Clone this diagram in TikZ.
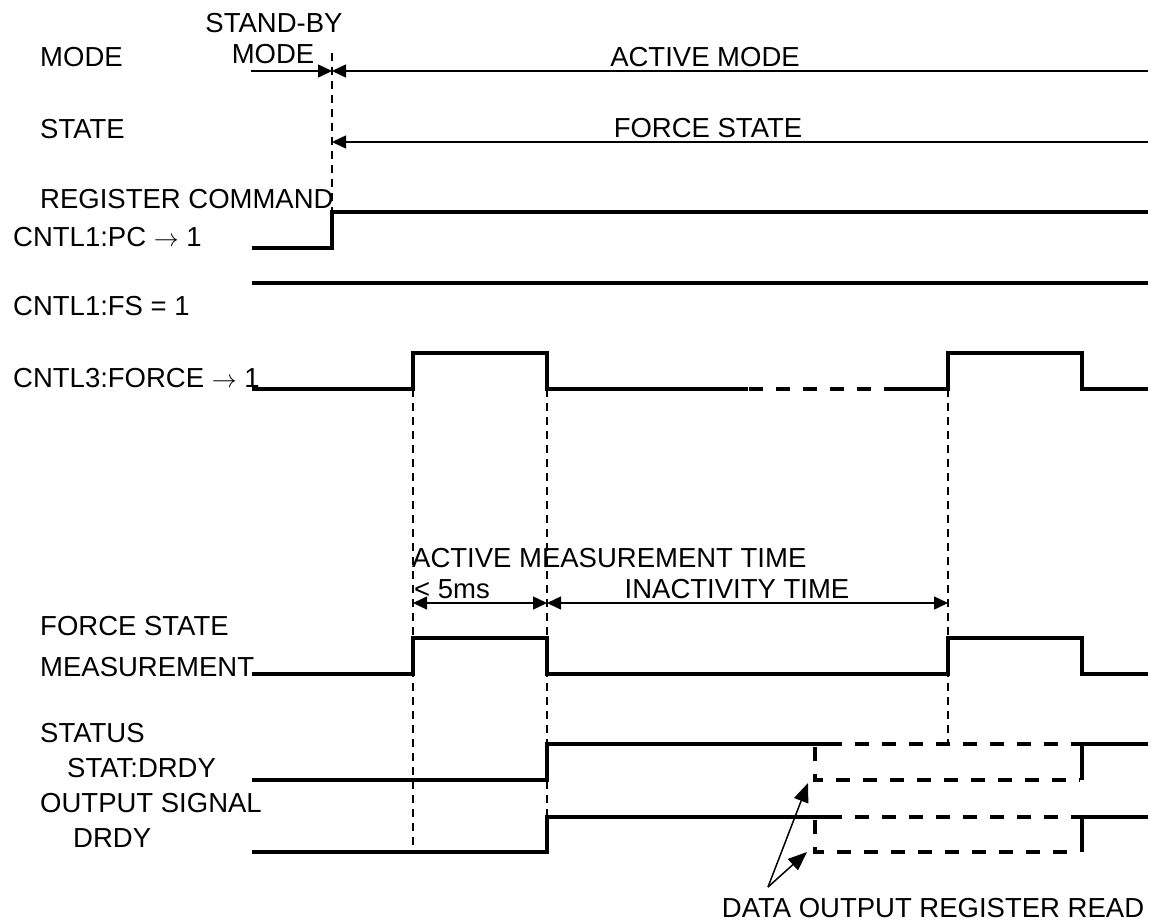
\documentclass[tikz,border=0pt]{standalone}
\usepackage{fontspec}
\setmainfont{Liberation Sans}
\usepackage{tikz}
\usetikzlibrary{
    arrows.meta,
    positioning,
    calc
}

\begin{document}
\begin{tikzpicture}[x=1pt, y=-1pt,
    font=\fontsize{27.5}{33}\selectfont,
    every node/.style={inner sep=0pt, anchor=base west},
    sig/.style={line width=3.5pt},
    sigdash/.style={line width=3.5pt, dash pattern=on 14pt off 13pt},
    guide/.style={line width=1.5pt, dash pattern=on 8pt off 6pt},
    dim/.style={line width=1.5pt, {Triangle[length=14pt,width=13pt]}-{Triangle[length=14pt,width=13pt]}},
    toarrow/.style={line width=1.5pt, -{Triangle[length=14pt,width=13pt]}},
    callout/.style={line width=1.5pt, -{Triangle[length=19pt,width=15pt]}}]
    \useasboundingbox (0, 0) rectangle (1163, 924);
    % row labels
    \node (lblmode) at (40, 66) {MODE};
    \node (lblstate) at (40, 138) {STATE};
    \node (lblreg) at (40, 208) {REGISTER COMMAND};
    \node (lblpc) at (13, 246) {CNTL1:PC $\rightarrow$ 1};
    \node (lblfs) at (13, 315) {CNTL1:FS = 1};
    \node (lblforce) at (13, 387) {CNTL3:FORCE $\rightarrow$ 1};
    \node (lblfsm) at (40, 635) {FORCE STATE};
    \node (lblmeas) at (40, 676) {MEASUREMENT};
    \node (lblstatus) at (40, 742) {STATUS};
    \node (lblstat) at (67, 777) {STAT:DRDY};
    \node (lblout) at (40, 812) {OUTPUT SIGNAL};
    \node (lbldrdy) at (73, 847) {DRDY};
    % annotations
    \node[anchor=base] (standby) at (274, 32) {STAND-BY};
    \node[anchor=base] (standbymode) at (273, 63) {MODE};
    \node[anchor=base] (activemode) at (705, 66) {ACTIVE MODE};
    \node[anchor=base] (forcestate) at (708, 137) {FORCE STATE};
    \node (amt) at (412, 567) {ACTIVE MEASUREMENT TIME};
    \node (lt5) at (414, 598) {< 5ms};
    \node[anchor=base] (inact) at (737, 598) {INACTIVITY TIME};
    \node[anchor=base] (dorr) at (933, 917) {DATA OUTPUT REGISTER READ};
    % timing marks
    \coordinate (sbstart) at (251, 71);
    \coordinate (tact) at (332, 71);
    \coordinate (modeend) at (1148, 71);
    \coordinate (tstate) at (332, 142);
    \coordinate (stateend) at (1148, 142);
    \coordinate (m0) at (413, 603);
    \coordinate (m1) at (547, 603);
    \coordinate (m2) at (948, 603);
    \coordinate (readpt) at (768, 887);
    \coordinate (readstat) at (808, 783);
    \coordinate (readdrdy) at (807, 852);
    % guide lines
    \draw[guide] (332, 53) -- (332, 212);
    \draw[guide] (413, 389) -- (413, 852);
    \draw[guide] (547, 389) -- (547, 852);
    \draw[guide] (948, 389) -- (948, 744);
    % mode / state
    \draw[toarrow] (sbstart) -- (tact);
    \draw[toarrow] (modeend) -- (tact);
    \draw[toarrow] (stateend) -- (tstate);
    % register signals
    \draw[sig] (252, 248) -- (332, 248) -- (332, 212) -- (1148, 212);
    \draw[sig] (252, 283) -- (1148, 283);
    \draw[sig] (252, 389) -- (413, 389) -- (413, 353) -- (547, 353) -- (547, 389) -- (748, 389);
    \draw[sigdash] (749, 389) -- (887, 389);
    \draw[sig] (887, 389) -- (948, 389) -- (948, 353) -- (1082, 353) -- (1082, 389) -- (1148, 389);
    % measurement
    \draw[dim] (m0) -- (m1);
    \draw[dim] (m1) -- (m2);
    \draw[sig] (252, 674) -- (413, 674) -- (413, 638) -- (547, 638) -- (547, 674) -- (948, 674)
        -- (948, 638) -- (1082, 638) -- (1082, 674) -- (1148, 674);
    % status stat:drdy
    \draw[sig] (252, 780) -- (547, 780) -- (547, 744) -- (828, 744);
    \draw[sigdash] (828, 744) -- (1082, 744);
    \draw[sigdash] (815, 747) -- (815, 780) -- (1080, 780);
    \draw[sig] (1082, 780) -- (1082, 744) -- (1148, 744);
    % output signal drdy
    \draw[sig] (252, 852) -- (547, 852) -- (547, 817) -- (828, 817);
    \draw[sigdash] (828, 817) -- (1082, 817);
    \draw[sigdash] (815, 820) -- (815, 852) -- (1080, 852);
    \draw[sig] (1082, 852) -- (1082, 817) -- (1148, 817);
    % register read callouts
    \draw[callout] (readpt) -- (readstat);
    \draw[callout] (readpt) -- (readdrdy);
\end{tikzpicture}
\end{document}
